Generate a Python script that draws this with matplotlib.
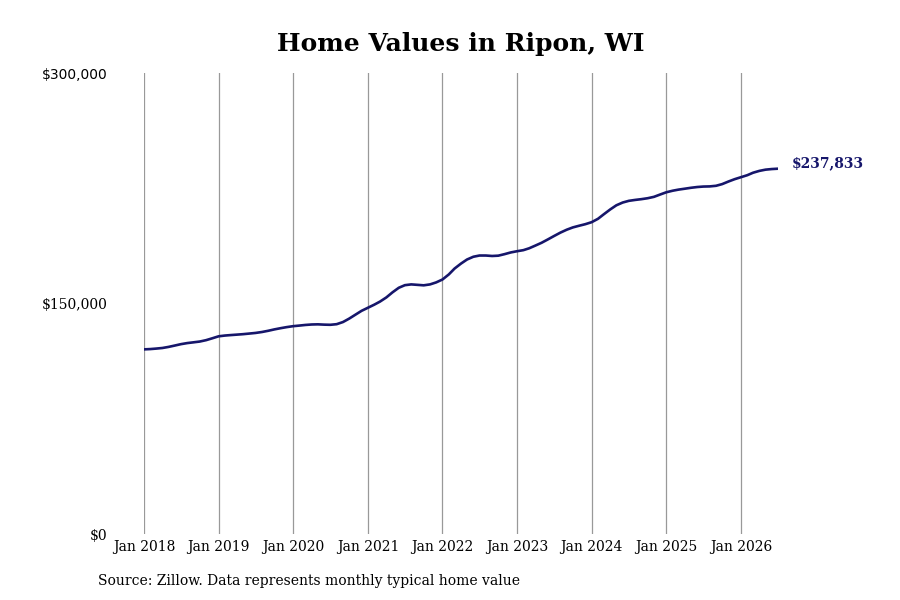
import pandas as pd
import numpy as np
import matplotlib
matplotlib.use('Agg')
import matplotlib.pyplot as plt
import matplotlib.dates as mdates
from matplotlib.ticker import FuncFormatter

# monthly typical home value, Jan 2018 - Jul 2026
dates = pd.date_range('2018-01-01', '2026-07-01', freq='MS')
values = [
	120200, 120400, 120700, 121100, 121800, 122700, 123600, 124300, 124800, 125300, 126200, 127400,
	128700, 129200, 129500, 129800, 130100, 130500, 130900, 131500, 132300, 133200, 134000, 134700,
	135300, 135700, 136100, 136400, 136500, 136300, 136200, 136600, 138000, 140200, 142800, 145300,
	147300, 149300, 151300, 154000, 157300, 160300, 162000, 162500, 162200, 161900, 162500, 163800,
	165700, 169000, 172800, 176000, 178700, 180500, 181300, 181300, 181000, 181200, 182200, 183300,
	184100, 184800, 186000, 187800, 189600, 191800, 194000, 196200, 198100, 199600, 200700, 201700,
	203000, 205200, 208200, 211300, 214000, 215800, 216900, 217500, 218000, 218600, 219500, 221000,
	222500, 223500, 224200, 224800, 225400, 225900, 226200, 226300, 226700, 227800, 229500, 231000,
	232300, 233600, 235200, 236400, 237200, 237600, 237833,
]
y_ticks = [0, 150000, 300000]
x_ticks = pd.date_range('2018-01-01', '2026-01-01', freq='YS')

title = "Home Values in Ripon, WI"
source = "Source: Zillow. Data represents monthly typical home value"
line_color = '#16166b'
serif = ['DejaVu Serif']

fig = plt.figure(figsize=(9, 6), dpi=100)
ax = fig.add_axes([0.16, 0.11, 0.7044, 0.768])

ax.plot(dates, values, color=line_color, linewidth=1.9, solid_capstyle='round')

ax.set_xlim(dates[0], dates[-1])
ax.set_ylim(0, 300000)
ax.set_xticks(x_ticks)
ax.xaxis.set_major_formatter(mdates.DateFormatter('Jan %Y'))
ax.set_yticks(y_ticks)
ax.yaxis.set_major_formatter(FuncFormatter(lambda v, p: '${:,.0f}'.format(v)))

ax.grid(axis='x', color='#999999', linewidth=0.9)
ax.grid(axis='y', visible=False)
for s in ax.spines.values():
	s.set_visible(False)
ax.tick_params(axis='both', length=0, labelsize=10)
ax.tick_params(axis='y', pad=26.5)
ax.tick_params(axis='x', pad=4)
for lab in ax.get_xticklabels() + ax.get_yticklabels():
	lab.set_family(serif)
# the top label is drawn in a sans face in the original
ax.get_yticklabels()[-1].set_family(['DejaVu Sans'])

ax.annotate('${:,.0f}'.format(values[-1]), xy=(dates[-1], values[-1]), xytext=(10, 4),
	textcoords='offset points', fontsize=10, fontweight='bold', color=line_color,
	family=serif, va='center', ha='left', annotation_clip=False)

fig.text(0.512, 0.926, title, fontsize=18, fontweight='bold', family=serif,
	ha='center', va='center')
fig.text(0.109, 0.031, source, fontsize=10, family=serif, ha='left', va='center')

fig.savefig('out.png', dpi=100)
